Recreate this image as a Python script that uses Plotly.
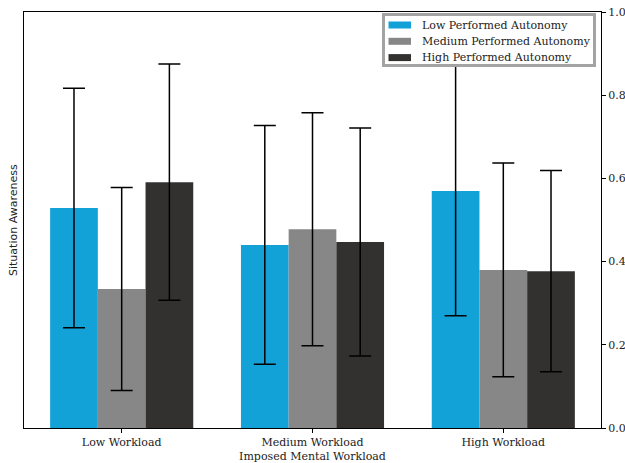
import plotly.graph_objects as go

workloads = ["Low Workload", "Medium Workload", "High Workload"]
series_names = ["Low Performed Autonomy", "Medium Performed Autonomy", "High Performed Autonomy"]
means = [
    [0.529, 0.440, 0.570],   # Low Performed Autonomy
    [0.334, 0.478, 0.380],   # Medium Performed Autonomy
    [0.591, 0.447, 0.377],   # High Performed Autonomy
]
errors = [
    [0.288, 0.287, 0.300],
    [0.244, 0.280, 0.257],
    [0.284, 0.274, 0.242],
]
colors = ["#12a2d8", "#878787", "#333030"]
yticks = [0.0, 0.2, 0.4, 0.6, 0.8, 1.0]

serif = "DejaVu Serif"
W, H = 625, 463
ML, MR, MT, MB = 24, 24, 12, 35
PW, PH = W - ML - MR, H - MT - MB


def px(x):
    """Horizontal pixel -> paper fraction."""
    return (x - ML) / PW


def py(y):
    """Vertical pixel (from top) -> paper fraction."""
    return (H - MB - y) / PH


fig = go.Figure()
for name, vals, errs, col in zip(series_names, means, errors, colors):
    fig.add_trace(go.Bar(
        name=name,
        x=list(range(len(workloads))),
        y=vals,
        marker=dict(color=col, line=dict(width=0)),
        error_y=dict(type="data", array=errs, visible=True,
                     color="black", thickness=1.5, width=11),
    ))

# legend box drawn on top of the plot area
shapes = [dict(
    type="rect", xref="paper", yref="paper", layer="above",
    x0=px(383.5), x1=px(594.5), y0=py(65.5), y1=py(14.5),
    line=dict(color="#a3a3a3", width=3), fillcolor="white",
)]
annotations = []
row_y = [25, 41.3, 57.6]
for name, col, ry in zip(series_names, colors, row_y):
    shapes.append(dict(
        type="rect", xref="paper", yref="paper", layer="above",
        x0=px(388.5), x1=px(411), y0=py(ry + 3.5), y1=py(ry - 3.5),
        line=dict(width=0), fillcolor=col,
    ))
    annotations.append(dict(
        text=name, xref="paper", yref="paper", x=px(420), y=py(ry),
        xanchor="left", yanchor="middle", showarrow=False,
        font=dict(family=serif, size=11, color="#222"),
    ))

annotations.append(dict(
    text="Situation Awareness", textangle=-90,
    xref="paper", yref="paper", x=0, y=0.5,
    xanchor="center", yanchor="middle", xshift=-11, showarrow=False,
    font=dict(family="DejaVu Sans", size=11, color="#222"),
))

fig.update_layout(
    width=W, height=H,
    margin=dict(l=ML, r=MR, t=MT, b=MB),
    plot_bgcolor="white", paper_bgcolor="white",
    barmode="group", bargap=0.25, bargroupgap=0,
    font=dict(family=serif, size=11, color="#222"),
    showlegend=False,
    xaxis=dict(
        tickmode="array", tickvals=list(range(len(workloads))), ticktext=workloads,
        range=[-0.512, 2.512], automargin=False,
        showline=True, mirror=True, linecolor="black", linewidth=1,
        ticks="outside", ticklen=4, tickcolor="black",
        showgrid=False, zeroline=False,
        title=dict(text="Imposed Mental Workload", standoff=4,
                   font=dict(family=serif, size=11, color="#222")),
    ),
    yaxis=dict(
        side="right", range=[0, 1], automargin=False,
        tickmode="array", tickvals=yticks, ticktext=[f"{v:.1f}" for v in yticks],
        showline=True, mirror=True, linecolor="black", linewidth=1,
        ticks="outside", ticklen=4, tickcolor="black",
        showgrid=False, zeroline=False,
    ),
    shapes=shapes,
    annotations=annotations,
)

fig.write_html("out.html")
